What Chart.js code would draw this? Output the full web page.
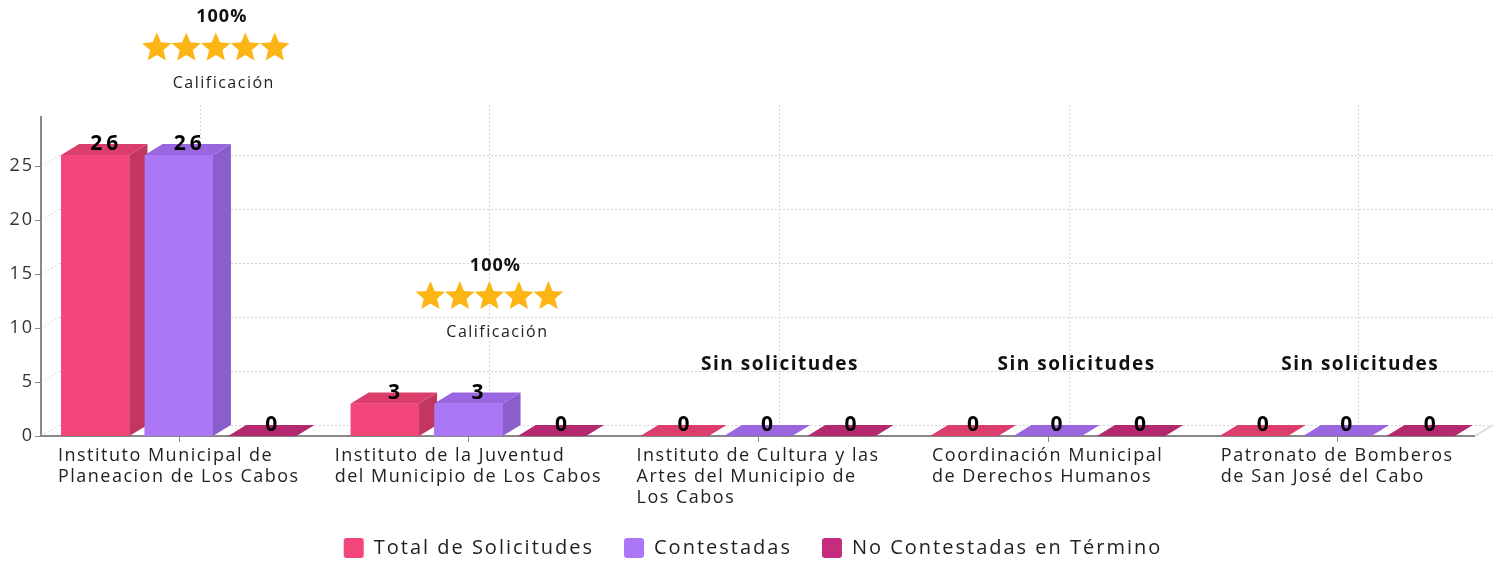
<!DOCTYPE html>
<html>
<head>
<meta charset="utf-8">
<script src="https://cdn.jsdelivr.net/npm/chart.js@4.4.1/dist/chart.umd.min.js"></script>
<style>
  html, body { margin: 0; padding: 0; background: #fff; }
</style>
</head>
<body>
<canvas id="grafica" width="1506" height="563"></canvas>
<script>
// datos
const categorias = [
    ["Instituto Municipal de", "Planeacion de Los Cabos"],
    ["Instituto de la Juventud", "del Municipio de Los Cabos"],
    ["Instituto de Cultura y las", "Artes del Municipio de", "Los Cabos"],
    ["Coordinación Municipal", "de Derechos Humanos"],
    ["Patronato de Bomberos", "de San José del Cabo"]
];
const totalSolicitudes = [26, 3, 0, 0, 0];
const contestadas = [26, 3, 0, 0, 0];
const noContestadas = [0, 0, 0, 0, 0];
const calificaciones = ["100%", "100%", null, null, null];
const estrellas = [5, 5, 0, 0, 0];
const ticksY = [0, 5, 10, 15, 20, 25];

// estilos
const FUENTE = "'Open Sans', 'DejaVu Sans', sans-serif";
const DX = 18, DY = -11;   // profundidad 3D
const EJE = 7;             // separación de los ejes respecto al área de barras
const colores = [
    { frente: "#F2457A", lado: "#C2375F", tapa: "#DC3E6C" },
    { frente: "#AC77F7", lado: "#8B5FCB", tapa: "#9A66E0" },
    { frente: "#C52C7C", lado: "#9E2363", tapa: "#B3286E" }
];
const desplazamientos = [37, 21, 21, 28, 22];

function poligono(ctx, pts) {
    ctx.beginPath();
    ctx.moveTo(pts[0][0], pts[0][1]);
    for (let k = 1; k < pts.length; k++) ctx.lineTo(pts[k][0], pts[k][1]);
    ctx.closePath();
    ctx.fill();
}

function linea(ctx, x1, y1, x2, y2) {
    ctx.beginPath();
    ctx.moveTo(x1, y1);
    ctx.lineTo(x2, y2);
    ctx.stroke();
}

function estrella(ctx, cx, cy, rExt, rInt) {
    ctx.beginPath();
    for (let k = 0; k < 10; k++) {
        const r = k % 2 === 0 ? rExt : rInt;
        const ang = -Math.PI / 2 + k * Math.PI / 5;
        const px = cx + r * Math.cos(ang), py = cy + r * Math.sin(ang);
        k === 0 ? ctx.moveTo(px, py) : ctx.lineTo(px, py);
    }
    ctx.closePath();
    ctx.fill();
}

// espaciado de letras para los textos que dibuja Chart.js (leyenda, eje Y)
const espaciado = {
    id: "espaciado",
    beforeLayout(chart) { chart.ctx.letterSpacing = "2px"; },
    beforeDraw(chart) { chart.ctx.letterSpacing = "2px"; }
};

// rejilla del fondo en perspectiva y ejes
const fondo3d = {
    id: "fondo3d",
    beforeDatasetsDraw(chart) {
        const { ctx, chartArea: a, scales: { x, y } } = chart;
        const izq = a.left + EJE, der = a.right - EJE;
        ctx.save();
        ctx.strokeStyle = "#d6d6d6";
        ctx.lineWidth = 1;
        ctx.setLineDash([2, 2]);
        ticksY.forEach(v => {
            const py = Math.round(y.getPixelForValue(v)) + 0.5;
            linea(ctx, izq, py, izq + DX, py + DY);
            linea(ctx, izq + DX, py + DY, der + DX, py + DY);
        });
        categorias.forEach((_, i) => {
            const px = Math.round(x.getPixelForValue(i) + DX + 3) + 0.5;
            linea(ctx, px, a.top + DY, px, a.bottom + DY);
        });
        ctx.setLineDash([]);
        ctx.strokeStyle = "#dcdcdc";
        ctx.lineWidth = 2;
        linea(ctx, der, a.bottom, der + DX, a.bottom + DY);

        // ejes
        ctx.strokeStyle = "#888";
        ctx.lineWidth = 2;
        linea(ctx, izq, a.top, izq, a.bottom + 1);
        linea(ctx, izq, a.bottom, der, a.bottom);
        ctx.lineWidth = 1;
        ticksY.forEach(v => {
            const py = Math.round(y.getPixelForValue(v)) + 0.5;
            linea(ctx, izq - 6, py, izq, py);
        });
        categorias.forEach((_, i) => {
            const px = Math.round(x.getPixelForValue(i)) + 0.5;
            linea(ctx, px, a.bottom, px, a.bottom + 6);
        });
        ctx.restore();
    }
};

// caras laterales y superiores de las barras + etiquetas
const barras3d = {
    id: "barras3d",
    afterDatasetsDraw(chart) {
        const ctx = chart.ctx;
        ctx.save();
        categorias.forEach((_, i) => {
            chart.data.datasets.forEach((ds, d) => {
                const bar = chart.getDatasetMeta(d).data[i];
                const { x, y, width, base } = bar.getProps(["x", "y", "width", "base"], true);
                const l = x - width / 2, r = x + width / 2;
                const c = colores[d];
                ctx.fillStyle = c.frente;
                ctx.fillRect(l, y, width, base - y);
                if (base - y > 0.5) {
                    ctx.fillStyle = c.lado;
                    poligono(ctx, [[r, y], [r + DX, y + DY], [r + DX, base + DY], [r, base]]);
                }
                ctx.fillStyle = c.tapa;
                poligono(ctx, [[l, y], [l + DX, y + DY], [r + DX, y + DY], [r, y]]);
            });
        });
        ctx.fillStyle = "#000";
        ctx.font = "bold 21px " + FUENTE;
        ctx.letterSpacing = "4px";
        ctx.textAlign = "center";
        ctx.textBaseline = "alphabetic";
        chart.data.datasets.forEach((ds, d) => {
            chart.getDatasetMeta(d).data.forEach((bar, i) => {
                const { x, y } = bar.getProps(["x", "y"], true);
                ctx.fillText(String(ds.data[i]), x + DX / 2 + 2, y - 5);
            });
        });
        ctx.restore();
    }
};

// etiquetas del eje X, calificaciones y "Sin solicitudes"
const anotaciones = {
    id: "anotaciones",
    afterDraw(chart) {
        const { ctx, chartArea: a, scales: { x, y } } = chart;
        ctx.save();
        // etiquetas de categoría: bloque centrado, líneas alineadas a la izquierda
        ctx.font = "18px " + FUENTE;
        ctx.letterSpacing = "1.5px";
        ctx.fillStyle = "#222";
        ctx.textAlign = "left";
        ctx.textBaseline = "alphabetic";
        categorias.forEach((lineas, i) => {
            const ancho = Math.max(...lineas.map(t => ctx.measureText(t).width));
            const x0 = x.getPixelForValue(i) - ancho / 2;
            lineas.forEach((t, k) => ctx.fillText(t, x0, a.bottom + 25 + k * 21));
        });

        ctx.textAlign = "center";
        categorias.forEach((_, i) => {
            const cx = x.getPixelForValue(i) + desplazamientos[i];
            if (totalSolicitudes[i] === 0) {
                ctx.font = "bold 19px " + FUENTE;
                ctx.letterSpacing = "1.5px";
                ctx.fillStyle = "#111";
                ctx.fillText("Sin solicitudes", cx + 1, y.getPixelForValue(6) - 1);
                return;
            }
            if (!calificaciones[i]) return;
            const tope = y.getPixelForValue(totalSolicitudes[i]);
            ctx.font = "bold 18px " + FUENTE;
            ctx.letterSpacing = "1px";
            ctx.fillStyle = "#111";
            ctx.fillText(calificaciones[i], cx + 6, tope - 133);
            ctx.fillStyle = "#FDB515";
            for (let k = 0; k < estrellas[i]; k++) {
                estrella(ctx, cx + (k - (estrellas[i] - 1) / 2) * 29.5, tope - 107, 15.5, 7);
            }
            ctx.font = "16px " + FUENTE;
            ctx.letterSpacing = "1.5px";
            ctx.fillStyle = "#222";
            ctx.fillText("Calificación", cx + 8, tope - 67);
        });
        ctx.restore();
    }
};

const serie = (label, data, d) => ({
    label: label,
    data: data,
    backgroundColor: colores[d].frente,
    borderWidth: 0,
    barPercentage: 0.818,
    categoryPercentage: 0.865
});

new Chart(document.getElementById("grafica"), {
    type: "bar",
    data: {
        labels: categorias,
        datasets: [
            serie("Total de Solicitudes", totalSolicitudes, 0),
            serie("Contestadas", contestadas, 1),
            serie("No Contestadas en Término", noContestadas, 2)
        ]
    },
    options: {
        responsive: false,
        animation: false,
        layout: { padding: { top: 116, right: 0, left: 0, bottom: -5 } },
        plugins: {
            tooltip: { enabled: false },
            legend: {
                position: "bottom",
                labels: {
                    boxWidth: 20,
                    boxHeight: 20,
                    useBorderRadius: true,
                    borderRadius: 3,
                    padding: 30,
                    color: "#222",
                    font: { family: FUENTE, size: 20 }
                }
            }
        },
        scales: {
            x: {
                afterFit(scale) { scale.height = 72; },
                grid: { display: false, drawTicks: false },
                border: { display: false },
                ticks: { display: false }
            },
            y: {
                min: 0,
                max: 29.6,
                afterFit(scale) { scale.width = 34; },
                afterBuildTicks(scale) { scale.ticks = ticksY.map(v => ({ value: v })); },
                grid: { display: false, drawTicks: false },
                border: { display: false },
                ticks: { color: "#333", padding: 0, font: { family: FUENTE, size: 18 } }
            },
            // eje vacío a la derecha: sólo reserva el margen derecho
            margen: {
                position: "right",
                min: 0,
                max: 1,
                afterFit(scale) { scale.width = 24; },
                grid: { display: false, drawTicks: false },
                border: { display: false },
                ticks: { display: false }
            }
        }
    },
    plugins: [espaciado, fondo3d, barras3d, anotaciones]
});
</script>
</body>
</html>
